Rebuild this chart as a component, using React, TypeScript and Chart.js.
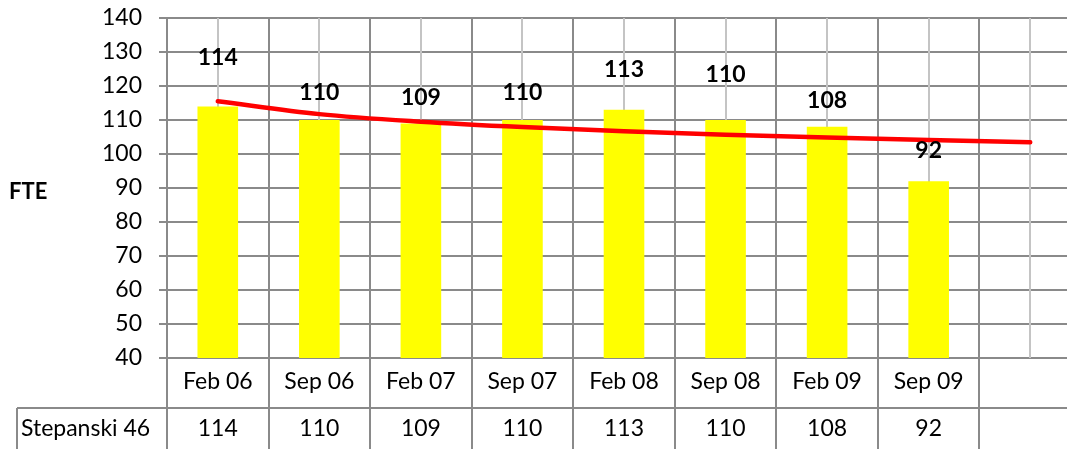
import React, { useEffect, useRef } from "react";
import { Chart, registerables } from "chart.js";

Chart.register(...registerables);

const categories = ["Feb 06", "Sep 06", "Feb 07", "Sep 07", "Feb 08", "Sep 08", "Feb 09", "Sep 09", ""];
const seriesName = "Stepanski 46";
const fteValues = [114, 110, 109, 110, 113, 110, 108, 92];
const axisTitle = "FTE";
const yMin = 40;
const yMax = 140;
const yStep = 10;

// pixel distance from the bar top to the data label centre (labels were placed by hand in the original)
const labelLift = [49, 27, 26, 27, 40, 45, 26, 31];

// logarithmic trend line (least squares on ln(x)), forecast one period forward
function logTrend(values: number[], total: number): number[] {
  const n = values.length;
  const lx = values.map((_, i) => Math.log(i + 1));
  const mx = lx.reduce((a, b) => a + b, 0) / n;
  const my = values.reduce((a, b) => a + b, 0) / n;
  let sxy = 0;
  let sxx = 0;
  for (let i = 0; i < n; i++) {
    sxy += (lx[i] - mx) * (values[i] - my);
    sxx += (lx[i] - mx) * (lx[i] - mx);
  }
  const b = sxy / sxx;
  const a = my - b * mx;
  const out: number[] = [];
  for (let i = 0; i < total; i++) out.push(a + b * Math.log(i + 1));
  return out;
}

const FONT = "Lato, 'Open Sans', sans-serif";
const FS = 23;
const GRID = "#8a8a8a";
const GRID_LIGHT = "#c4c4c4";
const W = 1081;
const H = 470;
const PLOT_LEFT = 167;
const PLOT_TOP = 18;
const PLOT_BOTTOM = 358;

export default function App() {
  const ref = useRef<HTMLCanvasElement | null>(null);

  useEffect(() => {
    const canvas = ref.current;
    if (!canvas) return;

    const extras = {
      id: "extras",
      beforeDatasetsDraw(chart: any) {
        const { ctx, chartArea, scales } = chart;
        const xs = scales.x;
        ctx.save();
        ctx.strokeStyle = GRID_LIGHT;
        ctx.lineWidth = 2;
        for (let i = 0; i < categories.length; i++) {
          const x = Math.round(xs.getPixelForValue(i));
          ctx.beginPath();
          ctx.moveTo(x, chartArea.top);
          ctx.lineTo(x, chartArea.bottom);
          ctx.stroke();
        }
        ctx.restore();
      },
      afterDatasetsDraw(chart: any) {
        const { ctx, scales } = chart;
        const xs = scales.x;
        const ys = scales.y;
        ctx.save();
        ctx.fillStyle = "#000";
        ctx.font = `bold ${FS}px ${FONT}`;
        ctx.textAlign = "center";
        ctx.textBaseline = "middle";
        fteValues.forEach((v, i) => {
          const x = xs.getPixelForValue(i);
          const y = ys.getPixelForValue(v) - labelLift[i];
          ctx.fillText(String(v), x, y);
        });
        ctx.restore();
      },
      afterDraw(chart: any) {
        const { ctx, chartArea, scales } = chart;
        const xs = scales.x;
        const n = categories.length;
        const cw = (chartArea.right - chartArea.left) / n;
        const bottom = chartArea.bottom;
        const rowY = bottom + 50;
        ctx.save();
        ctx.strokeStyle = GRID;
        ctx.lineWidth = 2;
        for (let i = 0; i <= n; i++) {
          const x = Math.round(chartArea.left + i * cw);
          ctx.beginPath();
          ctx.moveTo(x, bottom);
          ctx.lineTo(x, H);
          ctx.stroke();
        }
        ctx.beginPath();
        ctx.moveTo(17, rowY);
        ctx.lineTo(chartArea.right, rowY);
        ctx.stroke();
        ctx.beginPath();
        ctx.moveTo(17, rowY);
        ctx.lineTo(17, H);
        ctx.stroke();

        ctx.fillStyle = "#000";
        ctx.font = `${FS}px ${FONT}`;
        ctx.textBaseline = "middle";
        ctx.textAlign = "center";
        categories.forEach((c, i) => {
          const x = xs.getPixelForValue(i);
          ctx.fillText(c, x, bottom + 24);
        });
        fteValues.forEach((v, i) => {
          const x = xs.getPixelForValue(i);
          ctx.fillText(String(v), x, rowY + 21);
        });
        ctx.textAlign = "left";
        ctx.fillText(seriesName, 21, rowY + 21);

        ctx.font = `bold ${FS - 1}px ${FONT}`;
        ctx.fillText(axisTitle, 9, (chartArea.top + chartArea.bottom) / 2 + 4);
        ctx.restore();
      },
    };

    const chart = new Chart(canvas, {
      type: "bar",
      data: {
        labels: categories,
        datasets: [
          {
            type: "line",
            label: "trend",
            data: logTrend(fteValues, categories.length),
            borderColor: "#ff0000",
            borderWidth: 4.5,
            borderCapStyle: "round",
            pointRadius: 0,
            cubicInterpolationMode: "monotone",
            order: 0,
          } as any,
          {
            type: "bar",
            label: seriesName,
            data: [...fteValues, null],
            backgroundColor: "#ffff00",
            borderWidth: 0,
            categoryPercentage: 1,
            barPercentage: 0.4,
            order: 1,
          } as any,
        ],
      },
      options: {
        animation: false,
        responsive: false,
        devicePixelRatio: 1,
        layout: { padding: { top: PLOT_TOP, left: 0, right: 0, bottom: 0 } },
        plugins: { legend: { display: false }, tooltip: { enabled: false } },
        scales: {
          x: {
            offset: true,
            grid: { offset: true, color: GRID, lineWidth: 2, drawTicks: false },
            border: { display: true, color: GRID, width: 2 },
            ticks: { display: false },
            afterFit(scale: any) {
              scale.height = H - PLOT_BOTTOM;
              scale.paddingLeft = 0;
              scale.paddingRight = 0;
            },
          },
          y: {
            min: yMin,
            max: yMax,
            ticks: {
              stepSize: yStep,
              color: "#000",
              font: { family: FONT, size: FS },
              padding: 17,
            },
            grid: { color: GRID, lineWidth: 2, tickLength: 8 },
            border: { display: true, color: GRID, width: 2 },
            afterFit(scale: any) {
              scale.width = PLOT_LEFT;
              scale.paddingTop = 0;
              scale.paddingBottom = 0;
            },
          },
        },
      } as any,
      plugins: [extras],
    });

    return () => chart.destroy();
  }, []);

  return (
    <div
      style={{
        position: "fixed",
        left: 0,
        top: 0,
        width: 1067,
        height: 449,
        overflow: "hidden",
        background: "#fff",
      }}
    >
      <canvas ref={ref} width={W} height={H} style={{ width: W, height: H, display: "block" }} />
    </div>
  );
}
